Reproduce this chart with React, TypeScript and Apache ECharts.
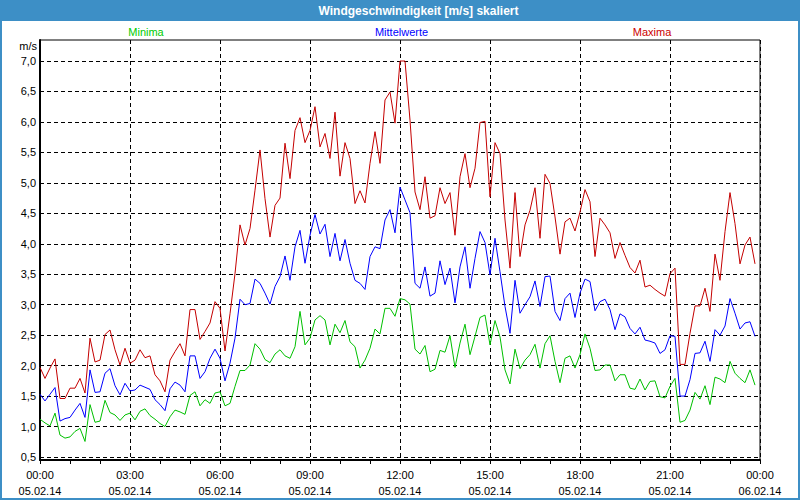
import React, { useEffect, useRef } from "react";
import * as echarts from "echarts";

const chartTitle = "Windgeschwindigkeit [m/s] skaliert";
const seriesNames = ["Minima", "Mittelwerte", "Maxima"];
const seriesColors = ["#00c000", "#0000ff", "#c40000"];
const legendColors = ["#00cc00", "#0000ff", "#cc0000"];
const unitLabel = "m/s";
const xTickLabels = [
  "00:00\n05.02.14",
  "03:00\n05.02.14",
  "06:00\n05.02.14",
  "09:00\n05.02.14",
  "12:00\n05.02.14",
  "15:00\n05.02.14",
  "18:00\n05.02.14",
  "21:00\n05.02.14",
  "00:00\n06.02.14",
];
const stepMinutes = 10;

const minima = [
  1.12, 1.06, 1.01, 1.22, 0.86, 0.81, 0.83, 0.92, 0.97, 0.755,
  1.36, 1.07, 1.09, 1.43, 1.23, 1.19, 1.10, 1.19, 1.22, 1.11,
  1.25, 1.29, 1.18, 1.12, 1.05, 1.00, 1.16, 1.27, 1.24, 1.20,
  1.51, 1.57, 1.34, 1.44, 1.38, 1.55, 1.57, 1.34, 1.38, 1.66,
  1.92, 1.92, 2.01, 2.36, 2.27, 2.10, 2.05, 2.19, 2.26, 2.16,
  2.12, 2.31, 2.89, 2.34, 2.45, 2.75, 2.82, 2.75, 2.34, 2.68,
  2.54, 2.74, 2.39, 2.31, 1.96, 2.09, 2.285, 2.60, 2.52, 2.94,
  2.94, 2.81, 3.10, 3.08, 3.01, 2.27, 2.19, 2.33, 1.90, 1.94,
  2.25, 2.22, 2.49, 1.97, 2.37, 2.68, 2.18, 2.48, 2.79, 2.83,
  2.34, 2.74, 2.47, 1.93, 1.70, 2.27, 1.95, 2.09, 2.18, 2.35,
  1.96, 2.36, 2.49, 2.07, 1.72, 2.12, 2.16, 1.96, 2.18, 2.52,
  2.285, 1.92, 1.93, 2.01, 2.01, 1.75, 1.85, 1.85, 1.63, 1.61,
  1.78, 1.60, 1.74, 1.75, 1.49, 1.47, 1.66, 1.79, 1.07, 1.10,
  1.27, 1.56, 1.45, 1.67, 1.36, 1.81, 1.78, 1.72, 2.07, 1.875,
  1.79, 1.72, 1.93, 1.68,
];

const mittelwerte = [
  1.53, 1.42, 1.53, 1.64, 1.09, 1.13, 1.15, 1.27, 1.38, 1.15,
  1.93, 1.56, 1.57, 1.875, 1.95, 1.67, 1.52, 1.71, 1.585, 1.60,
  1.68, 1.645, 1.61, 1.44, 1.36, 1.26, 1.62, 1.73, 1.68, 1.57,
  2.16, 2.16, 1.79, 1.90, 2.12, 2.27, 2.12, 1.75, 2.04, 2.45,
  3.09, 3.00, 3.02, 3.42, 3.35, 3.19, 3.01, 3.30, 3.46, 3.80,
  3.40, 3.95, 4.22, 3.68, 4.14, 4.48, 4.16, 4.32, 3.79, 4.17,
  3.72, 4.07, 3.68, 3.40, 3.35, 3.25, 3.79, 3.95, 3.92, 4.39,
  4.56, 4.18, 4.93, 4.72, 4.51, 3.35, 3.27, 3.62, 3.14, 3.19,
  3.72, 3.33, 3.60, 3.03, 3.62, 3.95, 3.27, 3.76, 4.20, 4.02,
  3.49, 4.09, 3.54, 2.97, 2.53, 3.40, 2.86, 3.00, 3.13, 3.39,
  2.97, 3.46, 3.47, 2.89, 2.74, 3.10, 3.19, 2.79, 3.19, 3.42,
  3.38, 2.90, 3.05, 3.09, 2.92, 2.59, 2.85, 2.80, 2.61, 2.52,
  2.63, 2.42, 2.40, 2.37, 2.20, 2.26, 2.49, 2.48, 1.50, 1.50,
  1.77, 2.20, 2.21, 2.40, 2.07, 2.59, 2.50, 2.65, 3.10, 2.86,
  2.60, 2.70, 2.72, 2.48,
];

const maxima = [
  1.97, 1.79, 1.96, 2.11, 1.46, 1.46, 1.63, 1.63, 1.79, 1.55,
  2.45, 2.06, 2.09, 2.51, 2.585, 2.26, 2.01, 2.285, 2.04, 2.09,
  2.26, 2.13, 2.16, 1.85, 1.75, 1.57, 2.09, 2.23, 2.36, 2.16,
  2.92, 2.92, 2.43, 2.56, 2.70, 3.05, 2.94, 2.24, 2.85, 3.51,
  4.31, 3.98, 4.25, 4.88, 5.54, 4.74, 4.11, 4.63, 4.75, 5.65,
  5.07, 5.86, 6.07, 5.66, 5.86, 6.25, 5.59, 5.81, 5.40, 6.16,
  5.11, 5.66, 5.40, 4.66, 4.87, 4.67, 5.32, 5.84, 5.32, 6.36,
  6.49, 5.98, 7.00, 7.00, 6.03, 4.85, 4.56, 5.10, 4.42, 4.46,
  4.92, 4.66, 4.84, 4.14, 5.10, 5.48, 4.92, 5.24, 5.99, 6.01,
  4.77, 5.66, 5.48, 4.39, 3.60, 4.84, 3.79, 4.31, 4.55, 4.92,
  4.09, 5.14, 4.99, 4.44, 3.83, 4.36, 4.42, 4.21, 4.52, 4.89,
  4.69, 3.79, 4.42, 4.31, 4.18, 3.76, 4.02, 3.81, 3.61, 3.52,
  3.73, 3.29, 3.32, 3.25, 3.19, 3.14, 3.51, 3.60, 2.02, 2.02,
  2.53, 2.98, 2.98, 3.27, 2.89, 3.83, 3.40, 4.20, 4.84, 4.33,
  3.67, 3.98, 4.11, 3.67,
];

const FONT = "'Liberation Sans', Arial, sans-serif";

export default function App() {
  const ref = useRef<HTMLDivElement>(null);

  useEffect(() => {
    if (!ref.current) return;
    const chart = echarts.init(ref.current, null, { renderer: "svg" });
    const toPairs = (arr: number[]) => arr.map((v, i) => [i * stepMinutes, v]);
    const allSeries = [minima, mittelwerte, maxima];

    chart.setOption({
      animation: false,
      backgroundColor: "#ffffff",
      textStyle: { fontFamily: FONT },
      grid: [
        { left: 40, right: 40, top: 40, bottom: 40, show: true, borderColor: "#000", borderWidth: 1, backgroundColor: "transparent" },
        { left: 40, right: 40, top: 61, bottom: 43 },
      ],
      xAxis: [
        {
          gridIndex: 0,
          type: "value",
          min: 0,
          max: 1440,
          interval: 180,
          axisLine: { show: true, lineStyle: { color: "#000", width: 2 } },
          axisTick: { show: true, length: 4, lineStyle: { color: "#000" } },
          minorTick: { show: true, splitNumber: 3, length: 4, lineStyle: { color: "#000" } },
          splitLine: { show: true, lineStyle: { color: "#000", type: [4, 3], width: 1 } },
          axisLabel: {
            formatter: (v: number) => xTickLabels[Math.round(v / 180)] ?? "",
            fontSize: 11,
            color: "#000",
            lineHeight: 16,
            margin: 7,
            fontFamily: FONT,
          },
        },
        { gridIndex: 1, type: "value", min: 0, max: 1440, show: false },
      ],
      yAxis: [
        {
          gridIndex: 0,
          type: "value",
          min: 0,
          max: 1,
          axisLine: { show: true, lineStyle: { color: "#000", width: 2 } },
          axisTick: { show: false },
          axisLabel: { show: false },
          splitLine: { show: false },
        },
        {
          gridIndex: 1,
          type: "value",
          min: 0.5,
          max: 7,
          interval: 0.5,
          axisLine: { show: false },
          axisTick: { show: false },
          axisLabel: {
            formatter: (v: number) => v.toFixed(1).replace(".", ","),
            fontSize: 11,
            color: "#000",
            margin: 4,
            fontFamily: FONT,
          },
          splitLine: { show: true, lineStyle: { color: "#000", type: [4, 3], width: 1 } },
        },
      ],
      series: allSeries.map((arr, k) => ({
        name: seriesNames[k],
        type: "line",
        xAxisIndex: 1,
        yAxisIndex: 1,
        data: toPairs(arr),
        showSymbol: false,
        clip: false,
        lineStyle: { color: seriesColors[k], width: 1 },
        itemStyle: { color: seriesColors[k] },
        z: 3 + k,
      })),
      graphic: [
        { type: "rect", shape: { x: 0, y: 0, width: 800, height: 21 }, style: { fill: "#3d8fc6" }, z: 10 },
        {
          type: "text",
          x: 418.5,
          y: 10.5,
          style: { text: chartTitle, fill: "#ffffff", font: `bold 12px ${FONT}`, textAlign: "center", textVerticalAlign: "middle" },
          z: 11,
        },
        { type: "rect", shape: { x: 1, y: 1, width: 798, height: 498 }, style: { fill: "none", stroke: "#3d8fc6", lineWidth: 2 }, z: 10 },
        {
          type: "text",
          x: 146,
          y: 32,
          style: { text: seriesNames[0], fill: legendColors[0], font: `11px ${FONT}`, textAlign: "center", textVerticalAlign: "middle" },
        },
        {
          type: "text",
          x: 401.5,
          y: 32,
          style: { text: seriesNames[1], fill: legendColors[1], font: `11px ${FONT}`, textAlign: "center", textVerticalAlign: "middle" },
        },
        {
          type: "text",
          x: 652,
          y: 32,
          style: { text: seriesNames[2], fill: legendColors[2], font: `11px ${FONT}`, textAlign: "center", textVerticalAlign: "middle" },
        },
        {
          type: "text",
          x: 37,
          y: 46,
          style: { text: unitLabel, fill: "#000", font: `11px ${FONT}`, textAlign: "right", textVerticalAlign: "middle" },
        },
      ],
    });

    return () => chart.dispose();
  }, []);

  return (
    <div
      ref={ref}
      style={{ position: "absolute", left: 0, top: 0, width: 800, height: 500, background: "#fff" }}
    />
  );
}
